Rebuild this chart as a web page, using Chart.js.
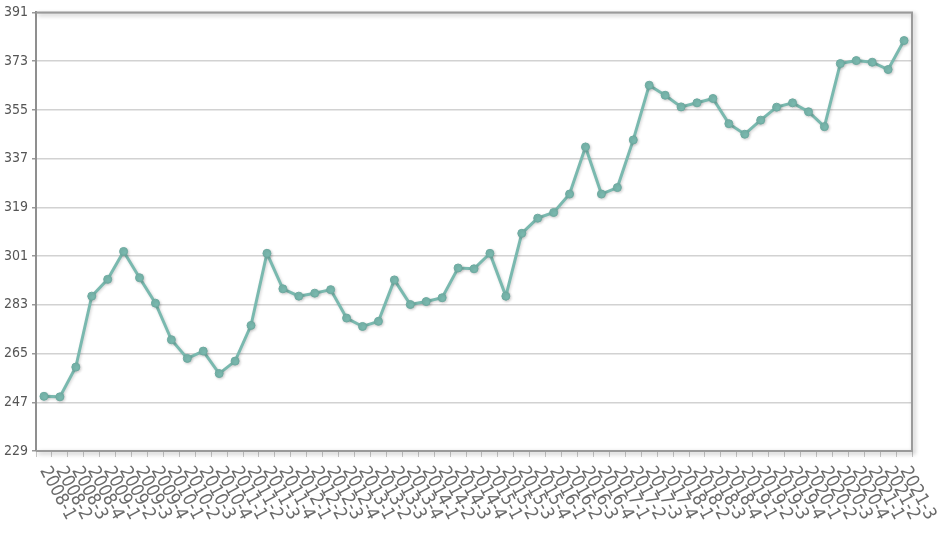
<!DOCTYPE html>
<html>
<head>
<meta charset="utf-8">
<script src="https://cdn.jsdelivr.net/npm/chart.js@4/dist/chart.umd.min.js"></script>
<style>
  html, body { margin: 0; padding: 0; background: #fff; }
  #grafico { display: block; }
</style>
</head>
<body>
<canvas id="grafico" width="940" height="558"></canvas>
<script>
// Trimestres de 2008-1 a 2021-3
var anos = [2008, 2009, 2010, 2011, 2012, 2013, 2014, 2015, 2016, 2017, 2018, 2019, 2020, 2021];
var trimestres = [];
anos.forEach(function (a) {
   [1, 2, 3, 4].forEach(function (q) {
      if (a === 2021 && q > 3) return;
      trimestres.push(a + "-" + q);
   });
});

// Valores
var valores = [
   249.2, 249.0, 260.0, 286.2, 292.4, 302.7, 293.0, 283.6, 270.1, 263.2,
   265.9, 257.6, 262.2, 275.4, 302.0, 288.9, 286.2, 287.3, 288.6, 278.1,
   275.0, 276.9, 292.2, 283.1, 284.2, 285.6, 296.6, 296.3, 302.0, 286.2,
   309.4, 315.0, 317.1, 323.9, 341.3, 323.9, 326.3, 343.9, 364.1, 360.4,
   356.1, 357.6, 359.2, 349.9, 346.0, 351.2, 356.0, 357.6, 354.3, 348.8,
   372.1, 373.2, 372.6, 369.9, 380.6
];

// Marcas do eixo Y
var yMin = 229, yMax = 391, yPasso = 18;

var corLinha = "#7ab9af";
var fonteEixo = "'Liberation Sans Narrow', 'DejaVu Sans Condensed', sans-serif";

// Moldura da área do gráfico com sombra
var moldura = {
   id: "moldura",
   afterDraw: function (chart) {
      var a = chart.chartArea, ctx = chart.ctx;
      ctx.save();
      ctx.shadowColor = "rgba(0,0,0,0.3)";
      ctx.shadowBlur = 4;
      ctx.shadowOffsetX = 2;
      ctx.shadowOffsetY = 2;
      ctx.strokeStyle = "#9a9a9a";
      ctx.lineWidth = 2;
      ctx.beginPath();
      ctx.moveTo(a.left, a.top);
      ctx.lineTo(a.right, a.top);
      ctx.lineTo(a.right, a.bottom);
      ctx.lineTo(a.left, a.bottom);
      ctx.stroke();
      ctx.restore();
   },
};

// Sombra leve na linha
var sombra = {
   id: "sombra",
   beforeDatasetsDraw: function (chart) {
      var ctx = chart.ctx;
      ctx.save();
      ctx.shadowColor = "rgba(0,0,0,0.18)";
      ctx.shadowBlur = 3;
      ctx.shadowOffsetX = 1;
      ctx.shadowOffsetY = 1;
   },
   afterDatasetsDraw: function (chart) {
      chart.ctx.restore();
   },
};

// Rótulos do eixo X inclinados para baixo
var rotulosX = {
   id: "rotulosX",
   afterDraw: function (chart) {
      var ctx = chart.ctx, x = chart.scales.x;
      ctx.save();
      ctx.fillStyle = "#6a6a6a";
      ctx.font = "18px " + fonteEixo;
      ctx.textAlign = "left";
      ctx.textBaseline = "middle";
      trimestres.forEach(function (t, i) {
         var px = x.getPixelForValue(i);
         ctx.save();
         ctx.translate(px, chart.chartArea.bottom + 17);
         ctx.rotate((62 * Math.PI) / 180);
         ctx.fillText(t, 0, 0);
         ctx.restore();
      });
      ctx.restore();
   },
};

new Chart(document.getElementById("grafico").getContext("2d"), {
   type: "line",
   data: {
      labels: trimestres,
      datasets: [
         {
            data: valores,
            borderColor: corLinha,
            borderWidth: 3,
            pointRadius: 4,
            pointBackgroundColor: corLinha,
            pointBorderColor: "#6daaa0",
            pointBorderWidth: 1,
            tension: 0,
            fill: false,
         },
      ],
   },
   options: {
      responsive: false,
      animation: false,
      layout: { padding: { top: 11, right: 28, left: 0, bottom: 0 } },
      plugins: {
         legend: { display: false },
         tooltip: { enabled: false },
      },
      scales: {
         x: {
            offset: true,
            grid: {
               offset: true,
               drawOnChartArea: false,
               drawTicks: true,
               tickLength: 6,
               color: "#c8c8c8",
            },
            border: { display: false },
            ticks: { display: false },
            afterFit: function (s) { s.height = 107; },
         },
         y: {
            min: yMin,
            max: yMax,
            ticks: {
               stepSize: yPasso,
               color: "#555",
               font: { size: 14, family: fonteEixo },
               padding: 4,
            },
            grid: {
               color: "#d2d2d2",
               lineWidth: 1.5,
               tickLength: 4,
               tickColor: "#999",
            },
            border: { display: true, color: "#8f8f8f", width: 2 },
            afterFit: function (s) { s.width = 36; },
         },
      },
   },
   plugins: [moldura, sombra, rotulosX],
});
</script>
</body>
</html>
